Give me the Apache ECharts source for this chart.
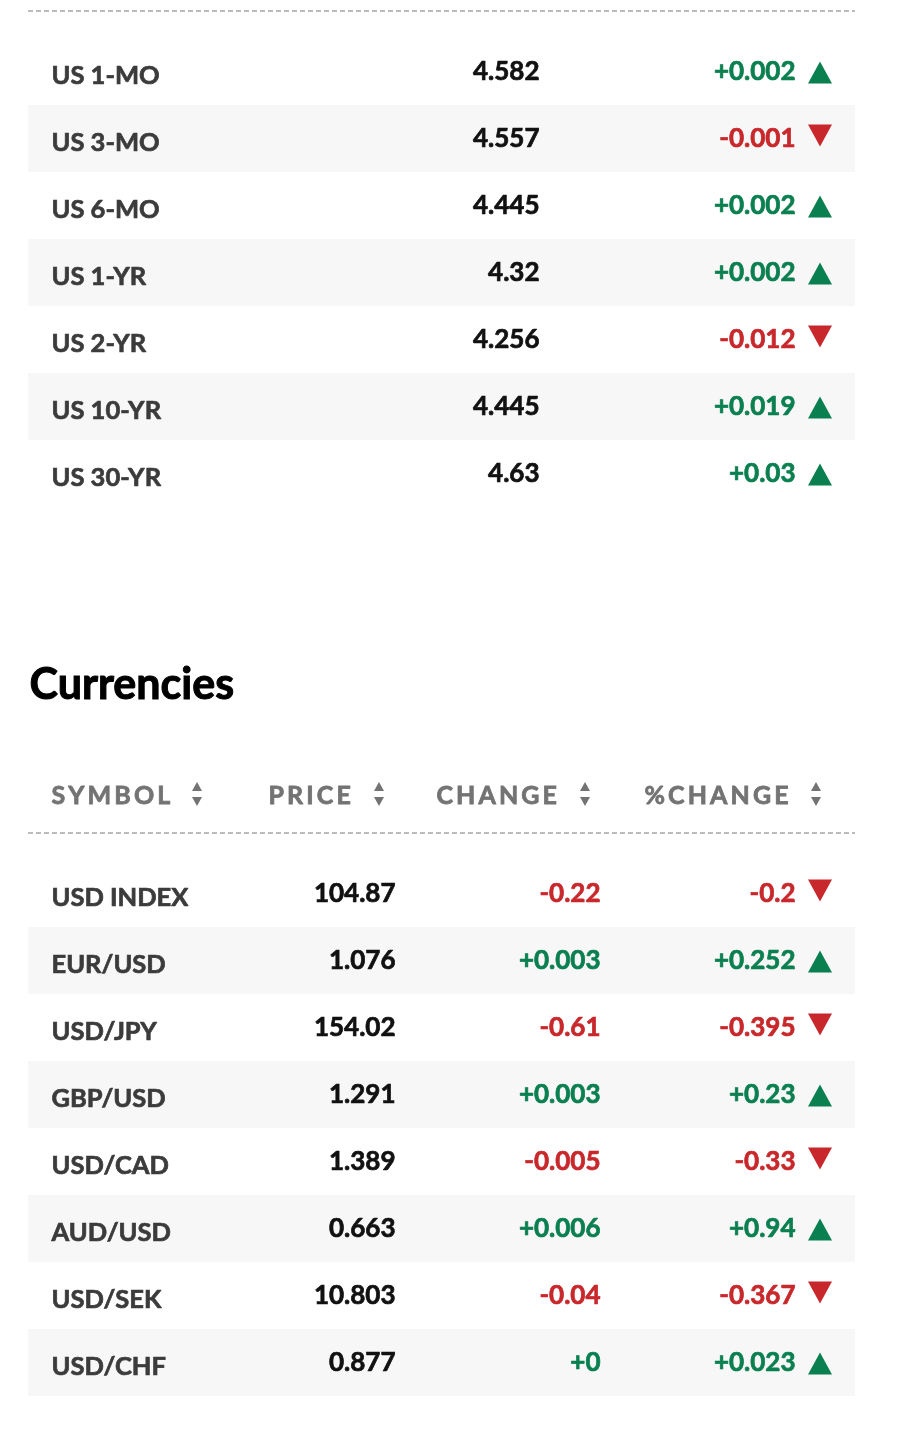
<!DOCTYPE html>
<html>
<head>
<meta charset="utf-8">
<script src="https://cdn.jsdelivr.net/npm/echarts@6/dist/echarts.min.js"></script>
<style>
  html, body { margin: 0; padding: 0; background: #fff; }
  #chart { width: 900px; height: 1433px; }
</style>
</head>
<body>
<div id="chart"></div>
<script>
// treasuries
const treasurySymbols = ['US 1-MO', 'US 3-MO', 'US 6-MO', 'US 1-YR', 'US 2-YR', 'US 10-YR', 'US 30-YR']
const treasuryPrices = [4.582, 4.557, 4.445, 4.32, 4.256, 4.445, 4.63]
const treasuryChanges = [0.002, -0.001, 0.002, 0.002, -0.012, 0.019, 0.03]

// currencies
const currencySymbols = ['USD INDEX', 'EUR/USD', 'USD/JPY', 'GBP/USD', 'USD/CAD', 'AUD/USD', 'USD/SEK', 'USD/CHF']
const currencyPrices = [104.87, 1.076, 154.02, 1.291, 1.389, 0.663, 10.803, 0.877]
const currencyChanges = [-0.22, 0.003, -0.61, 0.003, -0.005, 0.006, -0.04, 0]
const currencyPctChanges = [-0.2, 0.252, -0.395, 0.23, -0.33, 0.94, -0.367, 0.023]

const headerLabels = ['SYMBOL', 'PRICE', 'CHANGE', '%CHANGE']

const GREEN = '#0a7f4f'
const RED = '#c8282b'
const FONT = 'Lato'

// column anchors on the x axis (0..827 across the table)
const treasuryCols = { symbol: 23, price: 512, change: 768, arrow: 792 }
const currencyCols = { symbol: 23, price: 368, change: 573, pct: 768, arrow: 792 }

const signed = v => (v >= 0 ? '+' : '') + v

// Lato bold is a bit light next to the original, so thicken with a same-colour stroke
const textSeries = (grid, x, values, fmt, colorFn, opts) => {
  opts = opts || {}
  return {
    type: 'scatter',
    xAxisIndex: grid,
    yAxisIndex: grid,
    symbolSize: 1,
    itemStyle: { color: 'rgba(0,0,0,0)', opacity: 1 },
    silent: true,
    data: values.map((v, i) => ({
      value: [x, i],
      label: { formatter: fmt(v), color: colorFn(v), textBorderColor: colorFn(v) }
    })),
    label: {
      show: true,
      position: opts.pos || 'left',
      distance: 0,
      offset: [0, opts.dy || 0],
      fontFamily: FONT,
      fontWeight: 'bold',
      fontSize: opts.size || 26,
      textBorderWidth: 0.7
    }
  }
}

const arrowSeries = (grid, x, values) => ({
  type: 'scatter',
  xAxisIndex: grid,
  yAxisIndex: grid,
  silent: true,
  data: values.map((v, i) => ({
    value: [x, i],
    symbolRotate: v >= 0 ? 0 : 180,
    symbolOffset: v >= 0 ? [0, 1] : [0, -3],
    itemStyle: { color: v >= 0 ? GREEN : RED, opacity: 1 }
  })),
  symbol: 'triangle',
  symbolSize: [24, 22]
})

const yAxisFor = (grid, data) => ({
  type: 'category',
  gridIndex: grid,
  inverse: true,
  data: data,
  axisLine: { show: false },
  axisTick: { show: false },
  splitLine: { show: false },
  splitArea: { show: true, areaStyle: { color: ['#ffffff', '#f7f7f7'] } },
  axisLabel: { show: false }
})

const xAxisFor = grid => ({ type: 'value', gridIndex: grid, min: 0, max: 827, show: false })

const spaced = s => s.split('').join('\u200A\u200A')

// header text + sort icons
const headerX = [51, 268, 436, 644]
const sortX = [197, 379, 585, 816]
const graphics = []
headerLabels.forEach((h, i) => {
  graphics.push({
    type: 'text', left: headerX[i], top: 783, silent: true,
    style: { text: spaced(h), fill: '#737373', stroke: '#737373', lineWidth: 0.8, font: 'bold 25px ' + FONT }
  })
  graphics.push({
    type: 'polygon', silent: true,
    shape: { points: [[sortX[i] - 5, 791], [sortX[i] + 5, 791], [sortX[i], 782]] },
    style: { fill: '#737373' }
  })
  graphics.push({
    type: 'polygon', silent: true,
    shape: { points: [[sortX[i] - 5, 797], [sortX[i] + 5, 797], [sortX[i], 806]] },
    style: { fill: '#737373' }
  })
})
// dashed separators
;[11, 833].forEach(y => {
  graphics.push({
    type: 'line', silent: true,
    shape: { x1: 28, y1: y, x2: 855, y2: y },
    style: { stroke: '#a6a6a6', lineWidth: 1.3, lineDash: [5, 3] }
  })
})
graphics.push({
  type: 'text', left: 29, top: 663, silent: true,
  style: { text: 'Currencies', fill: '#000', stroke: '#000', lineWidth: 1, font: 'bold 43px ' + FONT }
})

const ink = () => '#111'
const trend = v => (v >= 0 ? GREEN : RED)
const symInk = () => '#3b3b3b'

const option = {
  animation: false,
  grid: [
    { left: 28, right: 45, top: 38, height: 469 },
    { left: 28, right: 45, top: 860, height: 536 }
  ],
  xAxis: [xAxisFor(0), xAxisFor(1)],
  yAxis: [yAxisFor(0, treasurySymbols), yAxisFor(1, currencySymbols)],
  graphic: graphics,
  series: [
    textSeries(0, treasuryCols.symbol, treasurySymbols, String, symInk, { pos: 'right', dy: 4, size: 25.5 }),
    textSeries(0, treasuryCols.price, treasuryPrices, String, ink),
    textSeries(0, treasuryCols.change, treasuryChanges, signed, trend),
    arrowSeries(0, treasuryCols.arrow, treasuryChanges),
    textSeries(1, currencyCols.symbol, currencySymbols, String, symInk, { pos: 'right', dy: 4, size: 25.5 }),
    textSeries(1, currencyCols.price, currencyPrices, String, ink),
    textSeries(1, currencyCols.change, currencyChanges, signed, trend),
    textSeries(1, currencyCols.pct, currencyPctChanges, signed, trend),
    arrowSeries(1, currencyCols.arrow, currencyPctChanges)
  ]
}

const chart = echarts.init(document.getElementById('chart'))
chart.setOption(option)
</script>
</body>
</html>
